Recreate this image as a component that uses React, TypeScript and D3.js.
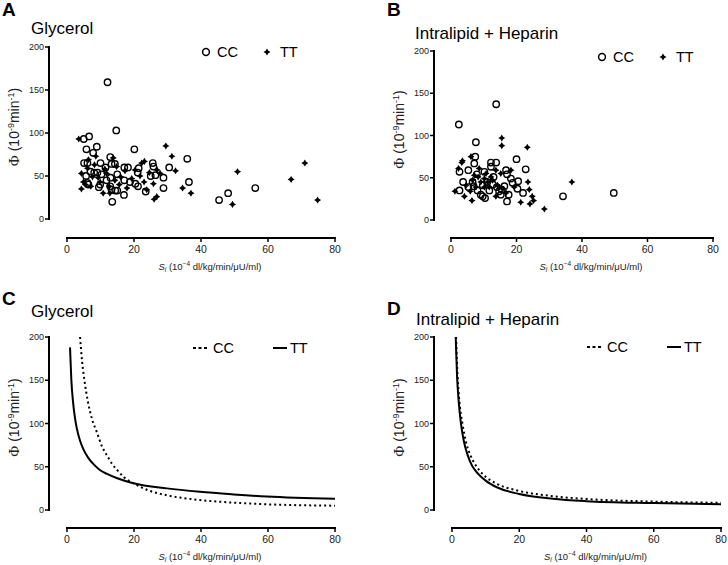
import React from "react";
import * as d3 from "d3";

// ---------- data ----------
const xTicks = [0, 20, 40, 60, 80];
const yTicks = [0, 50, 100, 150, 200];

// Panel A: Glycerol scatter
const glyCC: [number, number][] = [
  [12.1, 159], [14.7, 103], [5.0, 93], [6.6, 96], [8.9, 84], [5.8, 81], [7.8, 77], [20.1, 81],
  [12.9, 72], [35.9, 70], [5.1, 65], [6.1, 65], [10.0, 65], [14.3, 64], [13.3, 64], [17.1, 60],
  [18.2, 60], [25.6, 65], [25.8, 61], [30.5, 60], [21.4, 59], [9.1, 54], [8.1, 54], [10.3, 52],
  [15.0, 52], [21.1, 54], [25.0, 50], [26.4, 51], [5.7, 50], [28.8, 48], [17.1, 45], [18.8, 43],
  [20.4, 41], [21.2, 38], [36.4, 43], [9.5, 37], [12.9, 38], [13.3, 34], [14.4, 33], [15.0, 33],
  [23.5, 32], [28.8, 36], [17.0, 28], [13.5, 20], [45.4, 22], [48.1, 30], [56.2, 36], [11.8, 45],
  [6.1, 42], [6.4, 40], [9.9, 40], [11.5, 60], [13.0, 48], [7.0, 55],
];
const glyTT: [number, number][] = [
  [3.5, 93], [29.5, 85], [31.3, 73], [32.4, 56], [34.5, 36], [37.0, 30], [50.9, 55], [49.4, 17],
  [66.9, 46], [71.0, 65], [74.8, 22], [4.3, 53], [4.3, 35], [6.4, 69], [8.6, 73], [8.2, 63],
  [4.9, 43], [7.1, 38], [10.8, 30], [12.6, 38], [13.8, 71], [15.6, 40], [16.0, 49], [22.3, 65],
  [23.1, 67], [23.0, 43], [24.6, 54], [25.8, 41], [26.0, 23], [26.8, 26], [26.9, 57], [23.8, 34],
  [12.8, 30], [9.3, 48], [17.3, 56], [19.3, 47], [20.3, 57], [11.3, 58], [7.6, 49], [9.9, 43],
  [11.8, 53], [14.3, 45], [14.8, 61], [5.5, 40], [27.8, 53], [21.8, 50], [17.9, 36], [6.1, 59],
];

// Panel B: Intralipid + Heparin scatter
const intCC: [number, number][] = [
  [13.8, 137], [2.4, 113], [7.6, 92], [7.4, 75], [7.1, 67], [20.0, 72], [22.8, 60], [12.2, 68],
  [13.8, 68], [2.6, 57], [2.6, 35], [5.3, 59], [3.7, 45], [7.9, 54], [10.2, 57], [12.2, 63],
  [13.0, 51], [16.8, 59], [17.1, 54], [18.3, 49], [20.5, 46], [18.8, 44], [5.3, 39], [6.6, 45],
  [9.7, 41], [11.7, 35], [9.1, 30], [9.7, 28], [10.4, 26], [14.7, 34], [15.2, 30], [17.1, 22],
  [17.6, 30], [20.3, 37], [22.0, 32], [34.2, 28], [49.7, 32], [14.0, 39], [16.3, 40], [8.1, 35],
  [11.0, 45], [12.8, 42], [15.5, 36], [6.9, 40],
];
const intTT: [number, number][] = [
  [15.5, 97], [15.5, 88], [23.3, 86], [6.1, 75], [3.5, 70], [3.3, 68], [2.3, 61], [1.2, 34],
  [4.1, 28], [6.4, 23], [36.9, 45], [23.5, 45], [21.3, 21], [24.1, 19], [24.8, 28], [25.2, 23],
  [28.5, 13], [23.9, 36], [8.6, 61], [10.7, 55], [9.1, 45], [11.2, 45], [12.7, 47], [14.2, 41],
  [15.2, 55], [15.8, 37], [5.9, 34], [7.6, 39], [4.6, 41], [6.6, 47], [10.2, 39], [13.7, 28],
  [16.8, 32], [19.3, 39], [12.2, 51], [8.3, 51], [13.7, 59], [18.3, 59], [10.2, 49], [11.7, 39],
  [7.1, 53],
];

// Panel C: Glycerol curves
const glyCurveCC: [number, number][] = [
  [3.9, 200], [4.5, 172], [5.2, 150], [6.2, 126], [7.4, 106], [8.9, 90], [10.5, 73], [11.8, 64],
  [13.5, 53], [14.8, 47], [17.0, 38], [19.8, 31], [24.8, 22], [29.8, 17], [39.7, 11.5],
  [49.7, 8.5], [59.6, 6.6], [80, 5],
];
const glyCurveTT: [number, number][] = [
  [0.9, 188], [1.3, 150], [1.8, 125], [2.4, 106], [2.9, 95], [3.9, 80], [4.9, 70], [6.4, 60],
  [7.9, 53], [9.9, 46], [11.8, 42], [14.8, 37], [19.8, 31], [29.8, 25], [39.7, 21], [49.7, 18],
  [59.6, 15.5], [80, 13],
];

// Panel D: Intralipid + Heparin curves
const intCurveCC: [number, number][] = [
  [1.2, 200], [1.6, 160], [2.1, 130], [3.1, 100], [4.2, 78], [5.4, 64], [7.0, 52], [9.0, 42],
  [13.5, 30], [20, 22], [30, 16], [40, 12.7], [60, 9.7], [80, 8.3],
];
const intCurveTT: [number, number][] = [
  [1.1, 200], [1.5, 155], [2.0, 125], [2.6, 102], [3.5, 80], [4.6, 64], [6.0, 51], [7.5, 43],
  [10, 34], [13.5, 26], [20, 18.5], [30, 13], [40, 10.2], [60, 8], [80, 6.6],
];

// ---------- symbols ----------
const star4 = {
  draw(ctx: any, size: number) {
    const r = Math.sqrt(size) * 0.75;
    const w = r * 0.38;
    ctx.moveTo(0, -r);
    ctx.lineTo(w, -w);
    ctx.lineTo(r, 0);
    ctx.lineTo(w, w);
    ctx.lineTo(0, r);
    ctx.lineTo(-w, w);
    ctx.lineTo(-r, 0);
    ctx.lineTo(-w, -w);
    ctx.closePath();
  },
};
const starPath = d3.symbol().type(star4 as any).size(22)() as string;

const FONT = "'Liberation Sans', Arial, sans-serif";

type Layout = {
  axX: number; y200: number; y0: number; axY: number; x0: number; x80: number;
};

function Axes({ L, x, y }: { L: Layout; x: d3.ScaleLinear<number, number>; y: d3.ScaleLinear<number, number> }) {
  const cx = (L.x0 + L.x80) / 2 + 9;
  const cy = (L.y0 + L.y200) / 2 - 6;
  return (
    <g fontFamily={FONT}>
      <line x1={L.axX} x2={L.axX} y1={y(200) - 1} y2={y(0) + 1} stroke="#000" strokeWidth={2} />
      {yTicks.map((t) => (
        <g key={"y" + t}>
          <line x1={L.axX - 4} x2={L.axX} y1={y(t)} y2={y(t)} stroke="#000" strokeWidth={1.5} />
          <text x={L.axX - 5} y={y(t)} dy="0.34em" textAnchor="end" fontSize={9} fill="#222">{t}</text>
        </g>
      ))}
      <line x1={x(0) - 1} x2={x(80) + 1} y1={L.axY} y2={L.axY} stroke="#000" strokeWidth={2} />
      {xTicks.map((t) => (
        <g key={"x" + t}>
          <line x1={x(t)} x2={x(t)} y1={L.axY} y2={L.axY + 4} stroke="#000" strokeWidth={1.5} />
          <text x={x(t)} y={L.axY + 15} textAnchor="middle" fontSize={10.5} fill="#222">{t}</text>
        </g>
      ))}
      <text x={cx} y={L.axY + 32} textAnchor="middle" fontSize={9.5} fill="#222">
        <tspan fontStyle="italic">S</tspan>
        <tspan fontStyle="italic" fontSize={6.5} dy={2}>i</tspan>
        <tspan dy={-2}> (10</tspan>
        <tspan fontSize={6.5} dy={-4}>−4</tspan>
        <tspan dy={4}> dl/kg/min/μU/ml)</tspan>
      </text>
      <text transform={`translate(${L.axX - 30},${cy}) rotate(-90)`} textAnchor="middle" fontSize={14} fill="#222">
        <tspan fontFamily="'Liberation Serif', serif" fontSize={15}>Φ</tspan>
        <tspan>{"  (10"}</tspan>
        <tspan fontSize={9} dy={-5}>-9</tspan>
        <tspan dy={5}>min</tspan>
        <tspan fontSize={9} dy={-5}>-1</tspan>
        <tspan dy={5}>)</tspan>
      </text>
    </g>
  );
}

function ScatterPanel({ L, cc, tt, letter, title, letterY, titleX, titleY, leg }: any) {
  const x = d3.scaleLinear().domain([0, 80]).range([L.x0, L.x80]);
  const y = d3.scaleLinear().domain([0, 200]).range([L.y0, L.y200]);
  return (
    <g>
      <text x={L.axX - 47} y={letterY} fontFamily={FONT} fontWeight="bold" fontSize={19}>{letter}</text>
      <text x={titleX} y={titleY} fontFamily={FONT} fontSize={17}>{title}</text>
      <Axes L={L} x={x} y={y} />
      {cc.map((d: [number, number], i: number) => (
        <circle key={"c" + i} cx={x(d[0])} cy={y(d[1])} r={3.2} fill="none" stroke="#000" strokeWidth={1.4} />
      ))}
      {tt.map((d: [number, number], i: number) => (
        <path key={"t" + i} d={starPath} transform={`translate(${x(d[0])},${y(d[1])})`} fill="#000" />
      ))}
      <g fontFamily={FONT} fontSize={14.5}>
        <circle cx={leg[0]} cy={leg[1]} r={3.4} fill="none" stroke="#000" strokeWidth={1.5} />
        <text x={leg[0] + 11} y={leg[1] + 5}>CC</text>
        <path d={starPath} transform={`translate(${leg[0] + 61},${leg[1]})`} fill="#000" />
        <text x={leg[0] + 74} y={leg[1] + 5}>TT</text>
      </g>
    </g>
  );
}

function CurvePanel({ L, cc, tt, letter, title, letterY, titleX, titleY, leg }: any) {
  const x = d3.scaleLinear().domain([0, 80]).range([L.x0, L.x80]);
  const y = d3.scaleLinear().domain([0, 200]).range([L.y0, L.y200]);
  const line = d3.line<[number, number]>().x((d) => x(d[0])).y((d) => y(d[1])).curve(d3.curveMonotoneX);
  return (
    <g>
      <text x={L.axX - 47} y={letterY} fontFamily={FONT} fontWeight="bold" fontSize={19}>{letter}</text>
      <text x={titleX} y={titleY} fontFamily={FONT} fontSize={17}>{title}</text>
      <Axes L={L} x={x} y={y} />
      <path d={line(cc) as string} fill="none" stroke="#000" strokeWidth={2} strokeDasharray="2 3" />
      <path d={line(tt) as string} fill="none" stroke="#000" strokeWidth={2} />
      <g fontFamily={FONT} fontSize={14.5}>
        <line x1={leg[0]} x2={leg[0] + 15} y1={leg[1]} y2={leg[1]} stroke="#000" strokeWidth={2} strokeDasharray="3 2.5" />
        <text x={leg[0] + 20} y={leg[1] + 5}>CC</text>
        <line x1={leg[0] + 80} x2={leg[0] + 94} y1={leg[1]} y2={leg[1]} stroke="#000" strokeWidth={2} />
        <text x={leg[0] + 97} y={leg[1] + 5}>TT</text>
      </g>
    </g>
  );
}

export default function App() {
  const LA: Layout = { axX: 49, y200: 47, y0: 219, axY: 238, x0: 67, x80: 335 };
  const LB: Layout = { axX: 434, y200: 51, y0: 220, axY: 238, x0: 451, x80: 713 };
  const LC: Layout = { axX: 49, y200: 337, y0: 510, axY: 528, x0: 67, x80: 335 };
  const LD: Layout = { axX: 434, y200: 337, y0: 510, axY: 528, x0: 452, x80: 721 };
  return (
    <svg width={728} height={565} style={{ position: "absolute", left: 0, top: 0, background: "#fff" }}>
      <rect width={728} height={565} fill="#fff" />
      <ScatterPanel L={LA} cc={glyCC} tt={glyTT} letter="A" title="Glycerol" letterY={16} titleX={31} titleY={34} leg={[206, 52]} />
      <ScatterPanel L={LB} cc={intCC} tt={intTT} letter="B" title="Intralipid + Heparin" letterY={16} titleX={415} titleY={39} leg={[602, 57]} />
      <CurvePanel L={LC} cc={glyCurveCC} tt={glyCurveTT} letter="C" title="Glycerol" letterY={305} titleX={31} titleY={317} leg={[193, 348]} />
      <CurvePanel L={LD} cc={intCurveCC} tt={intCurveTT} letter="D" title="Intralipid + Heparin" letterY={315} titleX={416} titleY={325} leg={[587, 347]} />
    </svg>
  );
}
